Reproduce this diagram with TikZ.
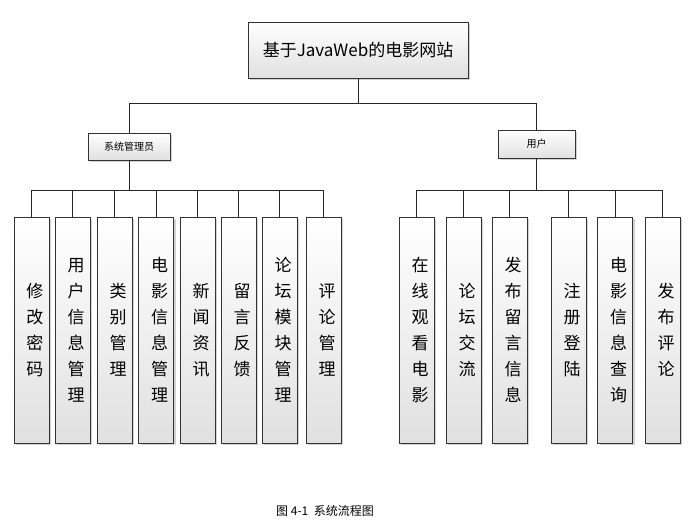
\documentclass[tikz,border=0pt]{standalone}
\usepackage{fontspec}
\newfontfamily\cjk{Noto Sans CJK SC}
\XeTeXlinebreaklocale "zh"
\XeTeXlinebreakskip = 0pt plus 1pt
\usetikzlibrary{shadows}

\tikzset{
  box/.style={draw=black!80,line width=0.6pt,top color=white,bottom color=black!12,
    drop shadow={shadow xshift=2pt,shadow yshift=-2pt,opacity=0.35},inner sep=1pt,font=\cjk},
  leaf/.style={box,minimum width=35pt,minimum height=226pt,text width=1em,align=center,
    font=\cjk\fontsize{17}{26}\selectfont},
  link/.style={draw=black!85,line width=0.6pt}
}

\begin{document}
\begin{tikzpicture}[x=1pt,y=-1pt]
\useasboundingbox (0,0) rectangle (697,525);

\node[box,minimum width=220pt,minimum height=56pt,font=\cjk\fontsize{17}{20}\selectfont] (root) at (358,50) {基于JavaWeb的电影网站};
\node[box,minimum width=82pt,minimum height=27pt,font=\cjk\fontsize{10}{12}\selectfont] (admin) at (129,146.5) {系统管理员};
\node[box,minimum width=77pt,minimum height=28pt,font=\cjk\fontsize{10}{12}\selectfont] (user) at (536.5,144) {用户};

\draw[link] (root.south) -- ++(0,25) coordinate (bus) -| (admin.north);
\draw[link] (bus) -| (user.north);

% left leaves
\foreach \name/\x/\txt in {a1/31.5/修改密码,a2/72.5/用户信息管理,a3/114.5/类别管理,a4/156/电影信息管理,
  a5/197.5/新闻资讯,a6/238.5/留言反馈,a7/279.5/论坛模块管理,a8/323.5/评论管理}{
  \node[leaf] (\name) at (\x,330) {\txt};
  \draw[link] (admin.south) -- ++(0,30) -| (\name.north);
}

% right leaves
\foreach \name/\x/\txt in {u1/416.5/在线观看电影,u2/463.5/论坛交流,u3/509.5/发布留言信息,
  u4/568.5/注册登陆,u5/615/电影信息查询,u6/662.5/发布评论}{
  \node[leaf] (\name) at (\x,330) {\txt};
  \draw[link] (user.south) -- ++(0,32) -| (\name.north);
}

\node[font=\cjk\fontsize{12}{14}\selectfont] (cap) at (325,511) {图 4-1\ \ 系统流程图};
\end{tikzpicture}
\end{document}
